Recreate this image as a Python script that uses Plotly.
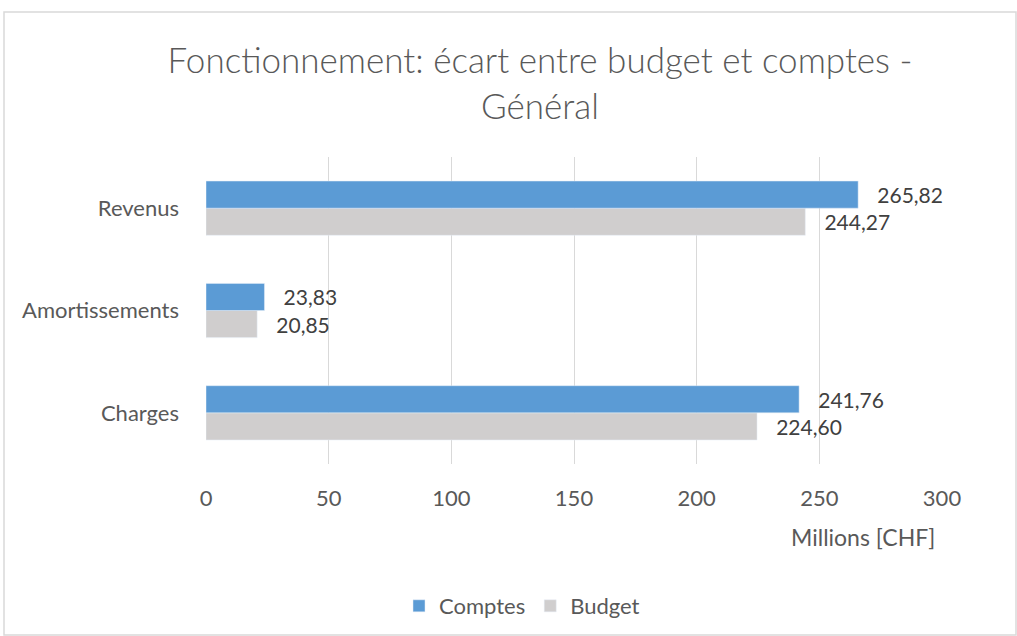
import plotly.graph_objects as go

categories = ["Charges", "Amortissements", "Revenus"]
comptes = [241.76, 23.83, 265.82]
budget = [224.60, 20.85, 244.27]
x_ticks = [0, 50, 100, 150, 200, 250, 300]

def fmt(v):
    return "\u00a0\u00a0\u00a0" + f"{v:.2f}".replace(".", ",")

FONT = "Lato"
TXT = "#595959"
FS = 22

fig = go.Figure()
fig.add_trace(go.Bar(
    y=categories, x=budget, orientation="h", name="Budget",
    marker=dict(color="#D0CECE"),
    text=[fmt(v) for v in budget], textposition="outside",
    textfont=dict(size=21, color="#404040", family=FONT),
    cliponaxis=False,
))
fig.add_trace(go.Bar(
    y=categories, x=comptes, orientation="h", name="Comptes",
    marker=dict(color="#5B9BD5"),
    text=[fmt(v) for v in comptes], textposition="outside",
    textfont=dict(size=21, color="#404040", family=FONT),
    cliponaxis=False,
))

fig.update_layout(
    width=1017, height=636,
    margin=dict(l=206, r=75, t=157, b=172),
    paper_bgcolor="white", plot_bgcolor="white",
    barmode="group", bargap=0.47, bargroupgap=0,
    font=dict(family=FONT, color=TXT, size=FS),
    title=dict(
        text="Fonctionnement: écart entre budget et comptes -<br>Général",
        x=540/1017, xanchor="center", xref="container",
        y=1 - 73/636, yanchor="top", yref="container",
        font=dict(size=35, color=TXT, family=FONT, weight=300),
    ),
    xaxis=dict(
        range=[0, 300], tickvals=x_ticks, showgrid=True,
        gridcolor="#D9D9D9", gridwidth=1.3, zeroline=False,
        showline=False, ticks="", ticklabelstandoff=19,
        tickfont=dict(size=FS, color=TXT),
    ),
    yaxis=dict(
        showgrid=False, zeroline=False, showline=False, ticks="",
        ticklabelstandoff=26, tickfont=dict(size=FS, color=TXT),
    ),
    legend=dict(
        orientation="h", traceorder="reversed",
        xref="container", x=522/1017, xanchor="center",
        yref="container", y=1 - 606/636, yanchor="middle",
        font=dict(size=FS, color=TXT), itemwidth=30,
    ),
    showlegend=True,
)

fig.add_annotation(
    text="Millions [CHF]", xref="paper", yref="paper",
    x=(937 - 206) / 736, xanchor="right",
    y=(464 - 537) / 307, yanchor="middle",
    showarrow=False, font=dict(size=23, color=TXT),
)

fig.add_shape(
    type="rect", xref="paper", yref="paper",
    x0=(4 - 206) / 736, x1=(1016 - 206) / 736,
    y0=(464 - 635) / 307, y1=(464 - 12) / 307,
    line=dict(color="#D9D9D9", width=1.5), fillcolor="rgba(0,0,0,0)",
    layer="below",
)

fig.write_html("out.html", config={"displayModeBar": False},
               post_script="document.body.style.margin='0';")
